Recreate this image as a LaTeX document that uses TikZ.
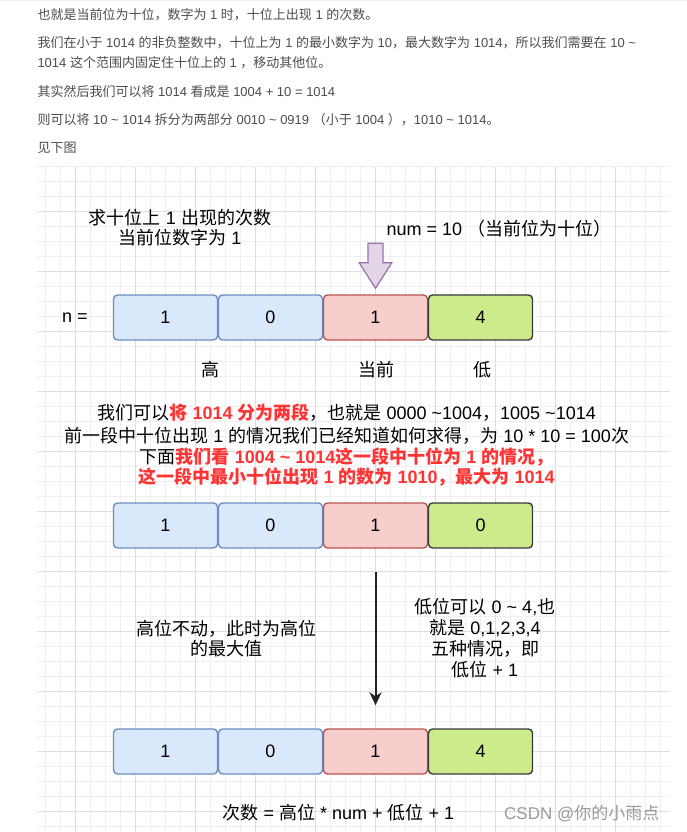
\documentclass[tikz,border=0pt]{standalone}
\usepackage{fontspec}
\setmainfont{Liberation Sans}
\newfontfamily\cjkfont{Noto Sans CJK SC}
\usetikzlibrary{arrows.meta}
% automatic switch between Latin and CJK fonts
\XeTeXinterchartokenstate=1
\newXeTeXintercharclass\CJKcls
\newcount\cjkcnt
\newcommand\setcjkrange[2]{\cjkcnt=#1\relax\loop\XeTeXcharclass\cjkcnt=\CJKcls\relax\ifnum\cjkcnt<#2\relax\advance\cjkcnt by 1\relax\repeat}
\setcjkrange{"3000}{"303F}
\setcjkrange{"4E00}{"9FFF}
\setcjkrange{"FF00}{"FFEF}
\XeTeXinterchartoks 0 \CJKcls = {\cjkfont}
\XeTeXinterchartoks 4095 \CJKcls = {\cjkfont}
\XeTeXinterchartoks \CJKcls 0 = {\rmfamily}
\XeTeXinterchartoks \CJKcls 4095 = {\rmfamily}
\newcommand\diagfont{\fontsize{18}{21}\selectfont}
\newcommand\parafont{\fontsize{13}{16}\selectfont}
\newcommand\markfont{\fontsize{17}{20}\selectfont}
\newcommand\tld{\textasciitilde}
\definecolor{GridMinor}{HTML}{EFEFEF}
\definecolor{GridMajor}{HTML}{DDDDDD}
\definecolor{BlueFill}{HTML}{DAE8FC}
\definecolor{BlueLine}{HTML}{6C8EBF}
\definecolor{RedFill}{HTML}{F8CECC}
\definecolor{RedLine}{HTML}{B85450}
\definecolor{GreenFill}{HTML}{CDEB8B}
\definecolor{GreenLine}{HTML}{36393D}
\definecolor{PurpFill}{HTML}{E1D5E7}
\definecolor{PurpLine}{HTML}{9673A6}
\definecolor{TxtRed}{HTML}{FF3333}
\definecolor{ParaGray}{HTML}{4D4D4D}
\definecolor{MarkGray}{HTML}{9A9A9A}
\definecolor{ArrowDark}{HTML}{222222}
\begin{document}
\begin{tikzpicture}[x=1pt,y=-1pt,
  gridminor/.style={draw=GridMinor, line width=0.8pt},
  gridmajor/.style={draw=GridMajor, line width=0.8pt},
  cell/.style={rounded corners=4pt, line width=1.4pt, minimum width=104pt,
    minimum height=45pt, inner sep=0pt, font=\diagfont, text=black},
  hicell/.style={cell, fill=BlueFill, draw=BlueLine},
  curcell/.style={cell, fill=RedFill, draw=RedLine},
  locell/.style={cell, fill=GreenFill, draw=GreenLine},
  lbl/.style={font=\diagfont, anchor=base, inner sep=0pt, text=black},
  para/.style={font=\parafont, anchor=base west, inner sep=0pt, text=ParaGray},
  wmark/.style={font=\markfont, anchor=base west, inner sep=0pt, text=MarkGray},
  flow/.style={line width=2pt, draw=ArrowDark,
    -{Stealth[length=13pt, width=12pt, inset=4pt]}}]
\useasboundingbox (0,0) rectangle (687,832);
\fill[white] (0,0) rectangle (687,832);
\fill[GridMinor] (0,0) rectangle (687,1.5);

% ---- text above the diagram
\node[para] (p1) at (37.3,19.7) {也就是当前位为十位，数字为 1 时，十位上出现 1 的次数。};
\node[para] (p2) at (37.3,47.4) {我们在小于 1014 的非负整数中，十位上为 1 的最小数字为 10，最大数字为 1014，所以我们需要在 10 \tld};
\node[para] (p3) at (37.3,68) {1014 这个范围内固定住十位上的 1 ，移动其他位。};
\node[para] (p4) at (37.3,96.4) {其实然后我们可以将 1014 看成是 1004 + 10 = 1014};
\node[para] (p5) at (37.3,124.7) {则可以将 10 \tld{} 1014 拆分为两部分 0010 \tld{} 0919 （小于 1004 ），1010 \tld{} 1014。};
\node[para] (p6) at (37.3,152.4) {见下图};

% ---- grid
\fill[white] (37,166.7) rectangle (670,832);
\foreach \gx in {45,60,...,660} \draw[gridminor] (\gx,166.7) -- (\gx,832);
\foreach \gy in {166.7,181.7,...,826.7} \draw[gridminor] (37,\gy) -- (670,\gy);
\foreach \gx in {75,135,...,615} \draw[gridmajor] (\gx,166.7) -- (\gx,832);
\foreach \gy in {211.7,271.7,...,811.7} \draw[gridmajor] (37,\gy) -- (670,\gy);

% ---- first row
\node[lbl] (t1) at (180,224.8) {求十位上 1 出现的次数};
\node[lbl] (t2) at (180,244.8) {当前位数字为 1};
\node[lbl] (t3) at (499,235.8) {num = 10 （当前位为十位）};
\node[lbl] (nlab) at (74.8,322.4) {n =};
\node[hicell] (r1a) at (165.5,317.5) {1};
\node[hicell] (r1b) at (270.5,317.5) {0};
\node[curcell] (r1c) at (375.5,317.5) {1};
\node[locell] (r1d) at (480.5,317.5) {4};
\draw[fill=PurpFill, draw=PurpLine, line width=1.2pt, line join=miter]
  (368,243.3) -- (383,243.3) -- (383,262.7) -- (391.8,262.7) -- (375.5,288.3)
  -- (359.2,262.7) -- (368,262.7) -- cycle;
\node[lbl] (lhi) at (210.4,376.5) {高};
\node[lbl] (lcur) at (376.7,376.5) {当前};
\node[lbl] (llo) at (482,376.5) {低};

% ---- explanation
\node[lbl] (e1) at (346.7,419.8) {我们可以{\color{TxtRed}\bfseries 将 1014 分为两段}，也就是 0000 \tld1004，1005 \tld1014};
\node[lbl] (e2) at (346.7,442.5) {前一段中十位出现 1 的情况我们已经知道如何求得，为 10 * 10 = 100次};
\node[lbl] (e3) at (346.7,463.2) {下面{\color{TxtRed}\bfseries 我们看 1004 \tld{} 1014这一段中十位为 1 的情况，}};
\node[lbl] (e4) at (346.7,483.8) {{\color{TxtRed}\bfseries 这一段中最小十位出现 1 的数为 1010，最大为 1014}};

% ---- second row
\node[hicell] (r2a) at (165.5,525.5) {1};
\node[hicell] (r2b) at (270.5,525.5) {0};
\node[curcell] (r2c) at (375.5,525.5) {1};
\node[locell] (r2d) at (480.5,525.5) {0};

% ---- side notes
\node[lbl] (s1) at (226.5,635.5) {高位不动，此时为高位};
\node[lbl] (s2) at (226.5,655.8) {的最大值};
\node[lbl] (q1) at (485,613.8) {低位可以 0 \tld{} 4,也};
\node[lbl] (q2) at (485,634.8) {就是 0,1,2,3,4};
\node[lbl] (q3) at (485,655.8) {五种情况，即};
\node[lbl] (q4) at (485,676.5) {低位 + 1};

% ---- third row
\node[hicell] (r3a) at (165.5,751.5) {1};
\node[hicell] (r3b) at (270.5,751.5) {0};
\node[curcell] (r3c) at (375.5,751.5) {1};
\node[locell] (r3d) at (480.5,751.5) {4};
\coordinate (arrS) at ([yshift=-23pt]r2c.south);
\coordinate (arrE) at ([yshift=23pt]r3c.north);
\draw[flow] (arrS) -- (arrE);

\node[lbl] (formula) at (338.3,819.8) {次数 = 高位 * num + 低位 + 1};
\node[wmark] (wm) at (504,819.3) {CSDN @你的小雨点};
\end{tikzpicture}
\end{document}
